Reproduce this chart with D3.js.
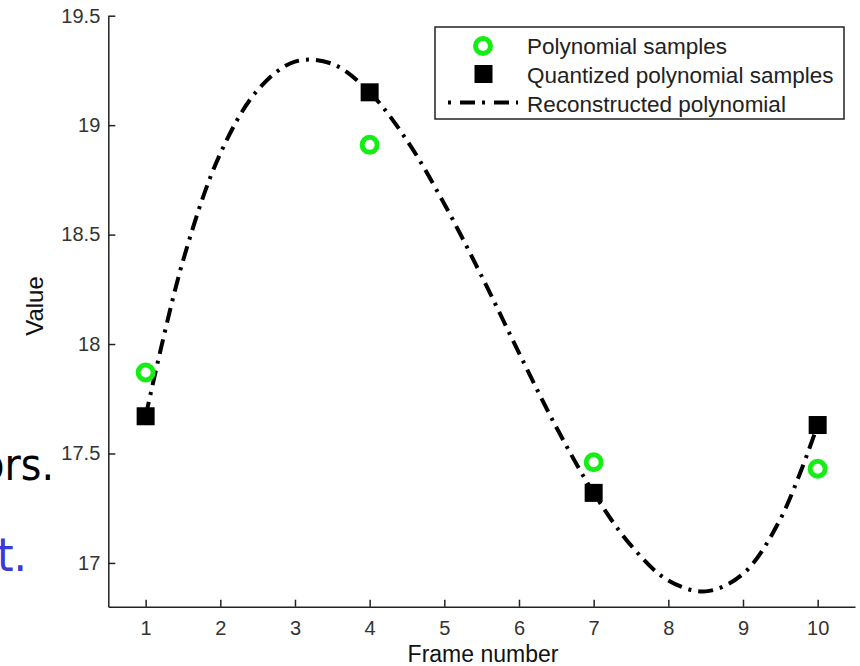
<!DOCTYPE html>
<html>
<head>
<meta charset="utf-8">
<script src="https://cdn.jsdelivr.net/npm/d3@7"></script>
<style>
  body { margin: 0; background: #fff; }
  svg { display: block; font-family: "Liberation Sans", Arial, sans-serif; }
  .axis path, .axis line { stroke: #222; stroke-width: 1.5; }
  .axis text { font-size: 20px; fill: #333; }
</style>
</head>
<body>
<script>
// sample positions (frame numbers) and values
var frames = [1, 4, 7, 10];
var polySamples = [17.87, 18.91, 17.46, 17.43];
var quantSamples = [17.67, 19.15, 17.32, 17.63];

// reconstructed curve, read every half frame
var curveFrames = [1, 1.5, 2, 2.5, 3, 3.5, 4, 4.5, 5, 5.5, 6, 6.5, 7, 7.5, 8, 8.5, 9, 9.5, 10];
var curveValues = [17.67, 18.38, 18.87, 19.16, 19.29, 19.28, 19.15, 18.93, 18.64, 18.31, 17.96,
                   17.62, 17.32, 17.08, 16.92, 16.87, 16.95, 17.20, 17.63];

var xTicks = [1, 2, 3, 4, 5, 6, 7, 8, 9, 10];
var yTicks = [17, 17.5, 18, 18.5, 19, 19.5];

var legendLabels = ['Polynomial samples', 'Quantized polynomial samples', 'Reconstructed polynomial'];

var width = 860, height = 666;
var green = '#14ee14';
var dash = '15,7,3,7';

var svg = d3.select('body').append('svg')
    .attr('width', width)
    .attr('height', height);

// slide text cut off on the left (it is cut in the original too)
svg.append('text')
    .attr('transform', 'translate(54, 480) scale(0.88, 1)')
    .attr('text-anchor', 'end')
    .style('font-family', '"DejaVu Sans", sans-serif')
    .style('font-size', '45px')
    .style('fill', '#000')
    .text('ors.');

svg.append('text')
    .attr('transform', 'translate(27, 571) scale(0.92, 1)')
    .attr('text-anchor', 'end')
    .style('font-family', '"DejaVu Sans", sans-serif')
    .style('font-size', '46px')
    .style('fill', '#3a3ad2')
    .text('t.');

var x = d3.scaleLinear()
    .domain([0.5, 10.5])
    .range([108.3, 855]);

var y = d3.scaleLinear()
    .domain([16.8, 19.5])
    .range([606.7, 15.7]);

var xAxis = d3.axisBottom(x)
    .tickValues(xTicks)
    .tickSizeInner(-7)
    .tickSizeOuter(0)
    .tickPadding(14)
    .tickFormat(d3.format('d'));

var yAxis = d3.axisLeft(y)
    .tickValues(yTicks)
    .tickSizeInner(-7)
    .tickSizeOuter(0)
    .tickPadding(8)
    .tickFormat(e => d3.format('')(e));

svg.append('g')
    .attr('class', 'axis xAxis')
    .attr('transform', `translate(0, ${y(16.8)})`)
    .call(xAxis);

svg.append('g')
    .attr('class', 'axis yAxis')
    .attr('transform', `translate(${x(0.5)}, 0)`)
    .call(yAxis);

// axis titles
svg.append('text')
    .attr('x', 483)
    .attr('y', 662)
    .attr('text-anchor', 'middle')
    .style('font-size', '23px')
    .style('fill', '#111')
    .text('Frame number');

svg.append('text')
    .attr('transform', 'translate(43, 306) rotate(-90)')
    .attr('text-anchor', 'middle')
    .style('font-size', '24px')
    .style('fill', '#111')
    .text('Value');

// reconstructed curve
var curveData = curveFrames.map((f, i) => ({ f: f, v: curveValues[i] }));

var line = d3.line()
    .x(e => x(e.f))
    .y(e => y(e.v))
    .curve(d3.curveCatmullRom.alpha(0.5));

svg.append('path')
    .datum(curveData)
    .attr('d', line)
    .attr('fill', 'none')
    .attr('stroke', '#000')
    .attr('stroke-width', 4)
    .attr('stroke-dasharray', dash);

// samples
var pts = frames.map((f, i) => ({ f: f, p: polySamples[i], q: quantSamples[i] }));

svg.selectAll('circle.poly')
    .data(pts)
    .enter()
    .append('circle')
    .attr('class', 'poly')
    .attr('cx', e => x(e.f))
    .attr('cy', e => y(e.p))
    .attr('r', 7.5)
    .attr('fill', 'none')
    .attr('stroke', green)
    .attr('stroke-width', 5);

var sq = 18;
svg.selectAll('rect.quant')
    .data(pts)
    .enter()
    .append('rect')
    .attr('class', 'quant')
    .attr('x', e => x(e.f) - sq / 2)
    .attr('y', e => y(e.q) - sq / 2)
    .attr('width', sq)
    .attr('height', sq)
    .attr('fill', '#000');

// legend
var legend = svg.append('g').attr('class', 'legend');

legend.append('rect')
    .attr('x', 435)
    .attr('y', 27)
    .attr('width', 409)
    .attr('height', 92)
    .attr('fill', '#fff')
    .attr('stroke', '#222')
    .attr('stroke-width', 1.5);

var rowY = [46, 74, 102.5];

legend.append('circle')
    .attr('cx', 483)
    .attr('cy', rowY[0])
    .attr('r', 7.5)
    .attr('fill', 'none')
    .attr('stroke', green)
    .attr('stroke-width', 5);

legend.append('rect')
    .attr('x', 483.5 - sq / 2)
    .attr('y', rowY[1] - sq / 2)
    .attr('width', sq)
    .attr('height', sq)
    .attr('fill', '#000');

legend.append('line')
    .attr('x1', 448)
    .attr('x2', 518)
    .attr('y1', rowY[2])
    .attr('y2', rowY[2])
    .attr('stroke', '#000')
    .attr('stroke-width', 4)
    .attr('stroke-dasharray', '3,9,15,7');

legend.selectAll('text.legendLabel')
    .data(legendLabels)
    .enter()
    .append('text')
    .attr('class', 'legendLabel')
    .attr('x', 527)
    .attr('y', (e, i) => [54, 83, 112][i])
    .style('font-size', '22.5px')
    .style('fill', '#222')
    .text(e => e);
</script>
</body>
</html>
